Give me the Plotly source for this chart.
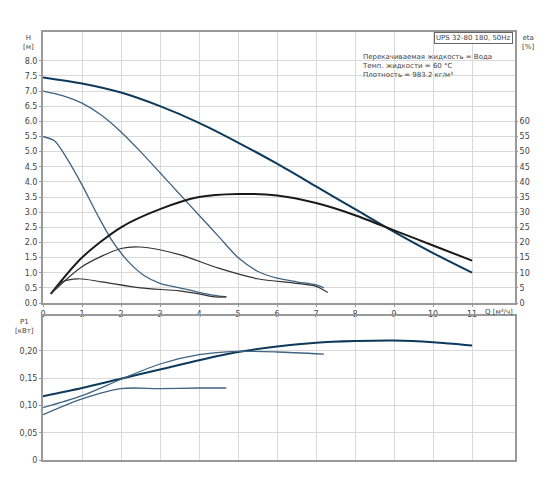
import plotly.graph_objects as go

q_h3 = [0, 1, 2, 3, 4, 5, 6, 7, 8, 9, 10, 11]
h3 = [7.45, 7.25, 6.95, 6.5, 5.95, 5.3, 4.6, 3.85, 3.1, 2.35, 1.65, 1.0]
q_h2 = [0, 0.5, 1, 1.5, 2, 2.5, 3, 3.5, 4, 4.5, 5, 5.5, 6, 6.5, 7, 7.2]
h2 = [7.0, 6.85, 6.6, 6.2, 5.65, 5.0, 4.3, 3.6, 2.9, 2.2, 1.5, 1.05, 0.82, 0.7, 0.6, 0.5]
q_h1 = [0, 0.3, 0.6, 1, 1.4, 1.8, 2.2, 2.6, 3.0, 3.5, 4.0, 4.4, 4.7]
h1 = [5.5, 5.35, 4.8, 3.9, 2.9, 2.0, 1.35, 0.9, 0.65, 0.5, 0.35, 0.25, 0.2]

q_e3 = [0.2, 1, 2, 3, 4, 5, 6, 7, 8, 9, 10, 11]
e3 = [3, 15, 25, 31, 35, 36, 35.5, 33, 29, 24, 19, 14]
q_e2 = [0.2, 1, 2, 2.5, 3.5, 4.5, 5.5, 6.5, 7, 7.3]
e2 = [3, 12, 18, 18.5, 16, 11.5, 8, 6.5, 5.5, 3.5]
q_e1 = [0.2, 0.5, 0.9, 1.5, 2.5, 3.5, 4.0, 4.4, 4.7]
e1 = [3, 7, 8, 7, 5, 4, 3, 2, 2]

q_p3 = [0, 1, 2, 3, 4, 5, 6, 7, 8, 9, 10, 11]
p3 = [0.117, 0.132, 0.149, 0.166, 0.183, 0.198, 0.208, 0.215, 0.218, 0.219, 0.216, 0.21]
q_p2 = [0, 1, 2, 3, 4, 5, 6, 7.2]
p2 = [0.096, 0.118, 0.148, 0.176, 0.193, 0.199, 0.198, 0.194]
q_p1 = [0, 1, 2, 3, 4, 4.7]
p1 = [0.083, 0.112, 0.131, 0.131, 0.132, 0.132]

q_ticks = list(range(0, 12))
h_ticks = [i * 0.5 for i in range(17)]
eta_ticks = list(range(0, 61, 5))

dark = "#0d3a5c"
mid = "#3f6382"
blk = "#1a1a1a"

fig = go.Figure()
def add(x, y, xa, ya, color, w):
    fig.add_trace(go.Scatter(x=x, y=y, xaxis=xa, yaxis=ya, mode="lines",
                             line=dict(color=color, width=w, shape="spline", smoothing=0.8),
                             showlegend=False, hoverinfo="skip"))

add(q_h3, h3, "x", "y", dark, 2)
add(q_h2, h2, "x", "y", mid, 1.3)
add(q_h1, h1, "x", "y", mid, 1.3)
add(q_e3, e3, "x", "y3", blk, 2)
add(q_e2, e2, "x", "y3", "#333", 1.2)
add(q_e1, e1, "x", "y3", "#333", 1.2)
add(q_p3, p3, "x2", "y2", dark, 2)
add(q_p2, p2, "x2", "y2", mid, 1.3)
add(q_p1, p1, "x2", "y2", mid, 1.3)

grid = "#d9d9d9"
ax = dict(showgrid=True, gridcolor=grid, gridwidth=1, showline=True, linecolor="#999",
          linewidth=2, mirror=True, zeroline=False, tickfont=dict(size=8, color="#444"),
          ticks="outside", ticklen=2, tickcolor="#999")
top_lo = (452 - 295) / 428
bot_hi = (452 - 308) / 428
fig.update_layout(
    width=550, height=482, paper_bgcolor="white", plot_bgcolor="white",
    margin=dict(l=21, r=43, t=24, b=30),
    font=dict(family="DejaVu Sans", size=8, color="#444"),
    xaxis=dict(ax, domain=[0, 1], anchor="y", range=[0, 12.1], tickvals=q_ticks),
    yaxis=dict(ax, domain=[top_lo, 1], range=[0, 8.95], tickvals=h_ticks, tickformat=".1f"),
    yaxis3=dict(range=[0, 89.5], tickvals=eta_ticks, overlaying="y", side="right",
                showgrid=False, zeroline=False, showline=False, tickfont=dict(size=8, color="#444"),
                anchor="x", ticks="outside", ticklen=2, tickcolor="#999"),
    xaxis2=dict(ax, domain=[0, 1], anchor="y2", range=[0, 12.1], tickvals=q_ticks, showticklabels=False, ticks=""),
    yaxis2=dict(ax, domain=[0, bot_hi], range=[0, 0.264], tickvals=[0, 0.05, 0.1, 0.15, 0.2],
                ticktext=["0", "0,05", "0,10", "0,15", "0,20"]),
)
ann = [
    dict(x=-0.015, y=1.0, xref="paper", yref="y domain", text="H<br>[м]", xanchor="right", yanchor="top"),
    dict(x=1.01, y=1.0, xref="paper", yref="y domain", text="eta<br>[%]", xanchor="left", yanchor="top"),
    dict(x=1.0, y=0.0, xref="paper", yref="y domain", text="Q [м³/ч]", xanchor="right", yanchor="top", yshift=-3),
    dict(x=-0.015, y=1.0, xref="paper", yref="y2 domain", text="P1<br>[кВт]", xanchor="right", yanchor="top"),
    dict(x=0.995, y=1.0, xref="paper", yref="y domain", text="UPS 32-80 180, 50Hz", xanchor="right",
         yanchor="top", showarrow=False, bordercolor="#666", borderwidth=1, bgcolor="white", borderpad=1),
    dict(x=0.955, y=0.93, xref="paper", yref="y domain", align="left",
         text="Перекачиваемая жидкость = Вода<br>Темп. жидкости = 60 °C<br>Плотность = 983.2 кг/м³",
         xanchor="right", yanchor="top"),
]
for a in ann:
    a.setdefault("showarrow", False)
    a.setdefault("font", dict(size=7, color="#444"))
fig.update_layout(annotations=ann)
fig.write_html("out.html")
